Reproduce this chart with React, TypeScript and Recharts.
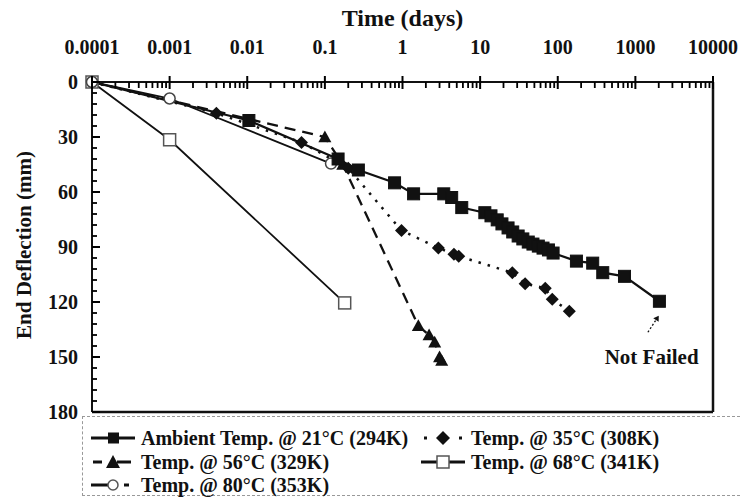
import React from 'react';
import { LineChart, Line, XAxis, YAxis, Legend, ReferenceDot, ReferenceLine } from 'recharts';

// ---- data (time in days, end deflection in mm) ----
const ambientTime = [0.0001, 0.0105, 0.148, 0.27, 0.79, 1.39, 3.4, 4.3, 5.8, 11.5, 13.8, 16.6, 19.1, 22.9, 26.3, 30.9, 35.5, 41.7, 47.9, 56.2, 64.6, 75.9, 87.1, 174, 282, 380, 724, 2040];
const ambientDefl = [0, 21, 42, 48, 55, 61, 61, 63, 68.5, 71.3, 73, 75.2, 77.4, 79.6, 81.8, 84, 85.6, 87.3, 88.4, 89.5, 90.6, 91.6, 93.3, 97.7, 98.8, 104, 106, 119.6];

const t35Time = [0.0001, 0.004, 0.05, 0.2, 0.97, 2.9, 4.6, 5.3, 26, 38, 69, 85, 141];
const t35Defl = [0, 17, 33, 47, 81, 90.5, 94, 95, 104, 110, 112.5, 118.5, 125];

const t56Time = [0.0001, 0.01, 0.1, 0.17, 1.6, 2.2, 2.6, 3.0, 3.2];
const t56Defl = [0, 20, 30, 45, 133, 138, 142, 150, 152];

const t68Time = [0.0001, 0.001, 0.18];
const t68Defl = [0, 31.5, 120.5];

const t80Time = [0.0001, 0.001, 0.12];
const t80Defl = [0, 9, 44.5];

const seriesNames = [
  'Ambient Temp. @ 21°C (294K)',
  'Temp. @ 35°C (308K)',
  'Temp. @ 56°C (329K)',
  'Temp. @ 68°C (341K)',
  'Temp. @ 80°C (353K)',
];

const majorTicks = [0.0001, 0.001, 0.01, 0.1, 1, 10, 100, 1000, 10000];
const xTickLabels = ['0.0001', '0.001', '0.01', '0.1', '1', '10', '100', '1000', '10000'];
const yMajorTicks = [0, 30, 60, 90, 120, 150, 180];
const yTickLabels = ['0', '30', '60', '90', '120', '150', '180'];
const yMinorStep = 6;

const toRows = (t: number[], d: number[]) => t.map((v, i) => ({ t: v, d: d[i] }));
const ambientData = toRows(ambientTime, ambientDefl);
const t35Data = toRows(t35Time, t35Defl);
const t56Data = toRows(t56Time, t56Defl);
const t68Data = toRows(t68Time, t68Defl);
const t80Data = toRows(t80Time, t80Defl);

const xAllTicks: number[] = [];
majorTicks.forEach((m, i) => {
  xAllTicks.push(m);
  if (i < majorTicks.length - 1) for (let k = 2; k <= 9; k++) xAllTicks.push(m * k);
});
const yAllTicks: number[] = [];
for (let v = 0; v <= 180; v += yMinorStep) yAllTicks.push(v);

const FONT = '"Liberation Serif", "Times New Roman", serif';
const INK = '#111';
const TICK = '#000';

const XTick = (props: any) => {
  const { x, y, payload } = props;
  const v = payload.value;
  const mi = majorTicks.findIndex((m) => Math.abs(m - v) / m < 1e-6);
  if (mi >= 0) {
    return (
      <g>
        <line x1={x} x2={x} y1={y - 6} y2={y + 7} stroke={TICK} strokeWidth={2} />
        <text x={x} y={y - 35} textAnchor="middle" dominantBaseline="central" fontFamily={FONT} fontWeight="bold" fontSize={20} fill={INK}>
          {xTickLabels[mi]}
        </text>
      </g>
    );
  }
  return (
    <g>
      <line x1={x} x2={x} y1={y} y2={y + 6} stroke={TICK} strokeWidth={1.8} />
    </g>
  );
};

const YTick = (props: any) => {
  const { x, y, payload } = props;
  const v = payload.value;
  const mi = yMajorTicks.indexOf(v);
  if (mi >= 0) {
    return (
      <g>
        <line x1={x} x2={x + 8} y1={y} y2={y} stroke={TICK} strokeWidth={2} />
        <text x={x - 14} y={y} textAnchor="end" dominantBaseline="central" fontFamily={FONT} fontWeight="bold" fontSize={20} fill={INK}>
          {yTickLabels[mi]}
        </text>
      </g>
    );
  }
  return (
    <g>
      <line x1={x} x2={x + 5} y1={y} y2={y} stroke={TICK} strokeWidth={1.8} />
    </g>
  );
};

const XTitle = (props: any) => {
  const vb = props.viewBox || {};
  return (
    <text x={vb.x + vb.width / 2} y={18} textAnchor="middle" dominantBaseline="central" fontFamily={FONT} fontWeight="bold" fontSize={24} fill={INK}>
      Time (days)
    </text>
  );
};

const YTitle = (props: any) => {
  const vb = props.viewBox || {};
  const cx = 24;
  const cy = vb.y + vb.height / 2 - 2;
  return (
    <text x={cx} y={cy} transform={`rotate(-90 ${cx} ${cy})`} textAnchor="middle" dominantBaseline="central" fontFamily={FONT} fontWeight="bold" fontSize={21} fill={INK}>
      End Deflection (mm)
    </text>
  );
};

const square = (filled: boolean, size: number) => (p: any) => {
  const { cx, cy, index } = p;
  if (filled && index === 0) return <g key={`s-${index}`} />;
  return (
    <rect key={`s-${index}`} x={cx - size / 2} y={cy - size / 2} width={size} height={size}
      fill={filled ? INK : '#fff'} stroke={filled ? INK : '#555'} strokeWidth={filled ? 1 : 1.5} />
  );
};

const diamond = (p: any) => {
  const { cx, cy, index } = p;
  if (index === 0) return <g key={`dm-${index}`} />;
  const r = 6.5;
  return <polygon key={`dm-${index}`} points={`${cx},${cy - r} ${cx + r},${cy} ${cx},${cy + r} ${cx - r},${cy}`} fill={INK} />;
};

const triangle = (p: any) => {
  const { cx, cy, index } = p;
  if (index <= 1) return <g key={`tr-${index}`} />;
  const r = 6.5;
  return <polygon key={`tr-${index}`} points={`${cx},${cy - r} ${cx + r},${cy + r * 0.8} ${cx - r},${cy + r * 0.8}`} fill={INK} />;
};

const circle = (p: any) => {
  const { cx, cy, index } = p;
  return <circle key={`c-${index}`} cx={cx} cy={cy} r={5.5} fill="#fff" stroke="#444" strokeWidth={1.5} />;
};

const ArrowShape = (props: any) => {
  const { x1, y1, x2, y2 } = props;
  if (x1 == null) return null;
  const ang = Math.atan2(y2 - y1, x2 - x1);
  const h = 6;
  const a1 = ang + Math.PI * 0.82;
  const a2 = ang - Math.PI * 0.82;
  return (
    <g>
      <line x1={x1} y1={y1} x2={x2} y2={y2} stroke={INK} strokeWidth={1.3} strokeDasharray="2 2" />
      <polygon points={`${x2},${y2} ${x2 + h * Math.cos(a1)},${y2 + h * Math.sin(a1)} ${x2 + h * Math.cos(a2)},${y2 + h * Math.sin(a2)}`} fill={INK} />
    </g>
  );
};

const NotFailedLabel = (props: any) => {
  const vb = props.viewBox || {};
  const cx = vb.x + (vb.width || 0) / 2;
  const cy = vb.y + (vb.height || 0) / 2;
  return (
    <text x={cx} y={cy} textAnchor="middle" dominantBaseline="central" fontFamily={FONT} fontWeight="bold" fontSize={21} fill={INK}>
      Not Failed
    </text>
  );
};

const LegendIcon = ({ i }: { i: number }) => {
  const c = 8;
  return (
    <svg width={44} height={16} style={{ display: 'block' }}>
      {i === 0 && (
        <g>
          <line x1={0} x2={44} y1={c} y2={c} stroke={INK} strokeWidth={3} />
          <rect x={17} y={c - 5.5} width={11} height={11} fill={INK} />
        </g>
      )}
      {i === 1 && (
        <g>
          <rect x={3} y={c - 1.5} width={3} height={3} fill={INK} />
          <rect x={38} y={c - 1.5} width={3} height={3} fill={INK} />
          <polygon points={`22,${c - 7} 29,${c} 22,${c + 7} 15,${c}`} fill={INK} />
        </g>
      )}
      {i === 2 && (
        <g>
          <line x1={2} x2={11} y1={c} y2={c} stroke={INK} strokeWidth={3} />
          <line x1={26} x2={40} y1={c} y2={c} stroke={INK} strokeWidth={3} />
          <polygon points={`22,${c - 7} 29,${c + 6} 15,${c + 6}`} fill={INK} />
        </g>
      )}
      {i === 3 && (
        <g>
          <line x1={0} x2={44} y1={c} y2={c} stroke={INK} strokeWidth={3} />
          <rect x={16} y={c - 6} width={12} height={12} fill="#fff" stroke="#555" strokeWidth={1.5} />
        </g>
      )}
      {i === 4 && (
        <g>
          <line x1={0} x2={17} y1={c} y2={c} stroke={INK} strokeWidth={3} />
          <circle cx={22} cy={c} r={5} fill="#fff" stroke="#555" strokeWidth={1.5} />
          <line x1={33} x2={38} y1={c} y2={c} stroke={INK} strokeWidth={3} />
        </g>
      )}
    </svg>
  );
};

const legendSlots = [
  { left: 8, top: 21 },
  { left: 338, top: 21 },
  { left: 8, top: 45 },
  { left: 338, top: 45 },
  { left: 8, top: 68 },
];
const legendOrder = [0, 1, 2, 3, 4];

const LegendContent = () => (
  <div style={{ position: 'relative', width: '100%', height: '100%' }}>
    {legendOrder.map((si, k) => (
      <div key={si} style={{ position: 'absolute', left: legendSlots[k].left, top: legendSlots[k].top - 11, height: 22, display: 'flex', alignItems: 'center', whiteSpace: 'nowrap' }}>
        <LegendIcon i={si} />
        <span style={{ marginLeft: 6, fontFamily: FONT, fontWeight: 'bold', fontSize: 20, color: INK, lineHeight: '22px' }}>{seriesNames[si]}</span>
      </div>
    ))}
  </div>
);

export default function App() {
  return (
    <div style={{ position: 'absolute', left: 0, top: 0, width: 740, height: 498, background: '#fff' }}>
      <LineChart width={740} height={498} margin={{ top: 0, right: 27, bottom: 86, left: 0 }}>
        <ReferenceLine y={180} stroke={INK} strokeWidth={2.5} ifOverflow="visible" />
        <ReferenceLine x={10000} stroke={INK} strokeWidth={2.5} ifOverflow="visible" />
        <Line data={t68Data} dataKey="d" name={seriesNames[3]} stroke={INK} strokeWidth={1.8} dot={square(false, 12)} isAnimationActive={false} />
        <Line data={t80Data} dataKey="d" name={seriesNames[4]} stroke={INK} strokeWidth={1.8} dot={circle} isAnimationActive={false} />
        <Line data={t56Data} dataKey="d" name={seriesNames[2]} stroke={INK} strokeWidth={2.3} strokeDasharray="11 7" dot={triangle} isAnimationActive={false} />
        <Line data={t35Data} dataKey="d" name={seriesNames[1]} stroke={INK} strokeWidth={2.5} strokeDasharray="2.5 7" dot={diamond} isAnimationActive={false} />
        <Line data={ambientData} dataKey="d" name={seriesNames[0]} stroke={INK} strokeWidth={2.2} dot={square(true, 12)} isAnimationActive={false} />
        <ReferenceLine segment={[{ x: 1450, y: 136.5 }, { x: 2000, y: 127.5 }]} shape={ArrowShape} ifOverflow="visible" />
        <ReferenceDot x={1620} y={150} r={1} fill="none" stroke="none" label={{ content: NotFailedLabel }} ifOverflow="visible" />
        <XAxis
          dataKey="t"
          type="number"
          scale="log"
          domain={[0.0001, 10000]}
          orientation="top"
          height={82}
          ticks={xAllTicks}
          interval={0}
          tickSize={0}
          tickMargin={0}
          tickLine={false}
          tick={XTick}
          axisLine={{ stroke: INK, strokeWidth: 2 }}
          label={{ content: XTitle }}
        />
        <YAxis
          type="number"
          domain={[0, 180]}
          reversed
          width={92}
          ticks={yAllTicks}
          interval={0}
          tickSize={0}
          tickMargin={0}
          tickLine={false}
          tick={YTick}
          axisLine={{ stroke: INK, strokeWidth: 2 }}
          label={{ content: YTitle }}
        />
        <Legend
          layout="vertical"
          align="center"
          verticalAlign="middle"
          content={LegendContent}
          wrapperStyle={{ left: 82, top: 416, width: 658, height: 80, border: '1px dashed #999', borderRight: 'none', boxSizing: 'border-box', margin: 0, padding: 0 }}
        />
      </LineChart>
    </div>
  );
}
